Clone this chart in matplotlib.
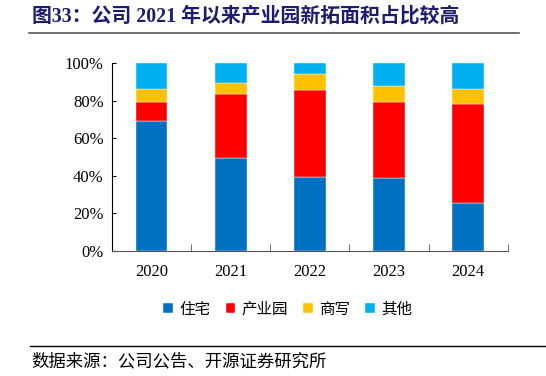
import matplotlib.pyplot as plt
import numpy as np
from matplotlib.lines import Line2D

plt.rcParams['font.family'] = ['Noto Sans CJK SC', 'DejaVu Sans']

# 数据
years = ['2020', '2021', '2022', '2023', '2024']
residential = [69.1, 49.6, 39.4, 38.8, 25.7]
industrial = [10.2, 33.9, 46.1, 40.5, 52.7]
commercial = [6.7, 5.9, 8.5, 8.5, 7.6]
other = [14.0, 10.6, 6.0, 12.2, 14.0]
series_names = ['住宅', '产业园', '商写', '其他']
colors = ['#0070C0', '#FF0000', '#FFC000', '#00B0F0']

fig = plt.figure(figsize=(5.46, 3.76), dpi=100)
ax = fig.add_axes([0.205, 0.3324, 0.725, 0.5])

x = np.arange(len(years))
bottom = np.zeros(len(years))
for vals, c, name in zip([residential, industrial, commercial, other], colors, series_names):
    ax.bar(x, vals, 0.4, bottom=bottom, color=c, label=name, edgecolor='white', linewidth=0.3)
    bottom += np.array(vals)

ax.set_xlim(-0.5, len(years) - 0.5)
ax.set_ylim(0, 100)
ax.set_yticks(range(0, 101, 20))
ax.set_yticklabels([f'{v}%' for v in range(0, 101, 20)], family='Liberation Serif', fontsize=12)
ax.set_xticks(x)
ax.set_xticklabels(years, family='Liberation Serif', fontsize=12)
ax.set_xticks(np.arange(-0.5, len(years), 1), minor=True)
ax.tick_params(axis='x', which='major', length=0, pad=9)
ax.tick_params(axis='x', which='minor', direction='in', length=5, color='#555555')
ax.tick_params(axis='y', direction='in', length=3, pad=6)
for s in ['top', 'right']:
    ax.spines[s].set_visible(False)
ax.spines['left'].set_color('black')
ax.spines['bottom'].set_color('#555555')

ax.legend(loc='center', bbox_to_anchor=(0.444, -0.31), ncol=4, frameon=False,
          handlelength=0.6, handleheight=0.6, handletextpad=0.4, columnspacing=1.0,
          prop={'family': 'Noto Sans CJK SC', 'size': 11.2})

# 标题与来源
fig.text(0.058, 0.955, '图33：公司 2021 年以来产业园新拓面积占比较高', fontsize=14.3,
         fontweight='bold', color='#1C1C73', va='center', family=['Liberation Serif', 'Noto Sans CJK SC'])
fig.add_artist(Line2D([0.053, 0.95], [0.912, 0.912], color='#555555', linewidth=1.2))
fig.add_artist(Line2D([0.055, 1.0], [0.081, 0.081], color='black', linewidth=1.0))
fig.text(0.058, 0.038, '数据来源：公司公告、开源证券研究所', fontsize=12.5, va='center')

fig.savefig('out.png', dpi=100)
